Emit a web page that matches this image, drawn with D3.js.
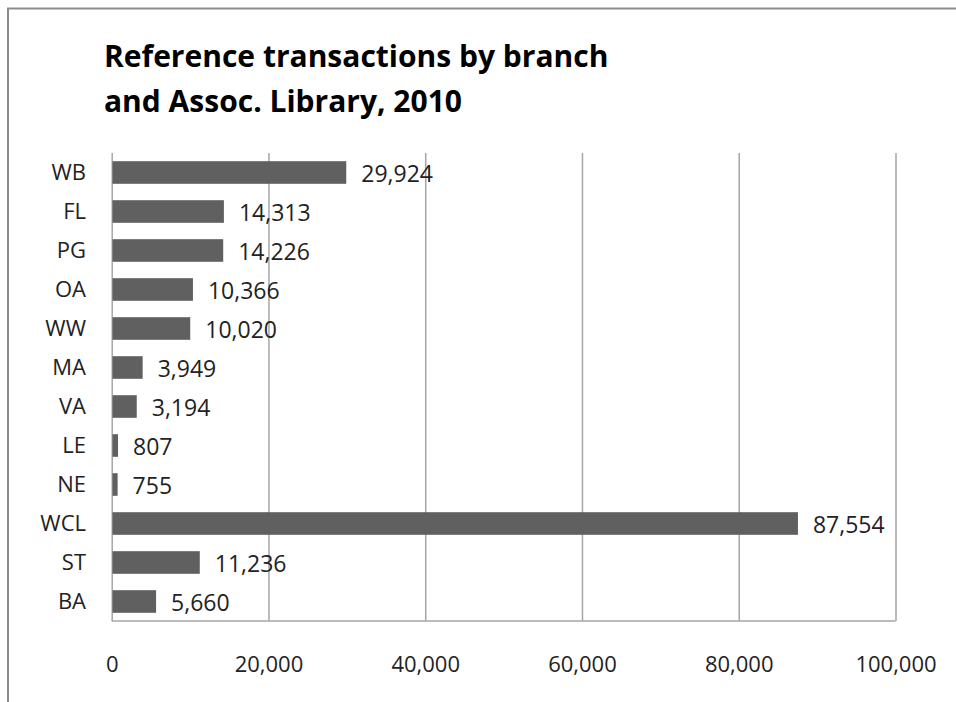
<!DOCTYPE html>
<html>
<head>
<meta charset="utf-8">
<script src="https://cdn.jsdelivr.net/npm/d3@7/dist/d3.min.js"></script>
<style>
  html, body { margin: 0; padding: 0; background: #fff; }
  svg { display: block; }
  text { font-family: "Open Sans", "Noto Sans", sans-serif; }
</style>
</head>
<body>
<svg id="chart" width="956" height="702"></svg>
<script>
// Branch codes, top to bottom
const categories = ["WB", "FL", "PG", "OA", "WW", "MA", "VA", "LE", "NE", "WCL", "ST", "BA"];
// Reference transactions, 2010
const transactions = [29924, 14313, 14226, 10366, 10020, 3949, 3194, 807, 755, 87554, 11236, 5660];
// Value axis ticks
const tickValues = [0, 20000, 40000, 60000, 80000, 100000];
const titleLines = ["Reference transactions by branch", "and Assoc. Library, 2010"];

const svg = d3.select("#chart");
const W = 956, H = 702;
const plot = { left: 111.7, right: 895.5, top: 153, bottom: 621 };

// outer chart frame (top and left edges visible)
svg.append("path")
  .attr("d", `M8,${H} L8,8.5 L${W},8.5`)
  .attr("fill", "none")
  .attr("stroke", "#8c8c8c")
  .attr("stroke-width", 2);

// title
const title = svg.append("text")
  .attr("x", 104)
  .attr("y", 67)
  .attr("font-size", 30)
  .attr("font-weight", 700)
  .attr("fill", "#000");
titleLines.forEach((line, i) => {
  title.append("tspan").attr("x", 104).attr("dy", i === 0 ? 0 : 45).text(line);
});

const x = d3.scaleLinear().domain([0, 100000]).range([plot.left, plot.right]);
const y = d3.scaleBand().domain(categories)
  .range([plot.top, plot.bottom])
  .paddingInner(0.42).paddingOuter(0.21);

// vertical gridlines
const grid = svg.append("g")
  .attr("transform", `translate(0,${plot.bottom})`)
  .call(d3.axisBottom(x).tickValues(tickValues)
    .tickSize(-(plot.bottom - plot.top)).tickFormat(""));
grid.select(".domain").remove();
grid.selectAll(".tick line").attr("stroke", "#a6a6a6").attr("stroke-width", 1.5);

// bottom axis line
svg.append("line")
  .attr("x1", plot.left).attr("x2", plot.right)
  .attr("y1", plot.bottom).attr("y2", plot.bottom)
  .attr("stroke", "#a6a6a6").attr("stroke-width", 1.5);

// bars
svg.append("g").selectAll("rect")
  .data(categories.map((c, i) => ({ c, v: transactions[i] })))
  .join("rect")
  .attr("x", x(0) + 0.75)
  .attr("y", d => y(d.c))
  .attr("width", d => x(d.v) - x(0) - 0.75)
  .attr("height", y.bandwidth())
  .attr("fill", "#606060");

// value labels
const fmt = d3.format(",");
svg.append("g").selectAll("text")
  .data(categories.map((c, i) => ({ c, v: transactions[i] })))
  .join("text")
  .attr("x", d => x(d.v) + 15)
  .attr("y", d => y(d.c) + y.bandwidth() / 2)
  .attr("dy", "0.42em")
  .attr("font-size", 23)
  .attr("fill", "#222")
  .text(d => fmt(d.v));

// value axis labels
const xAxis = svg.append("g")
  .attr("transform", `translate(0,${plot.bottom})`)
  .call(d3.axisBottom(x).tickValues(tickValues).tickSize(0).tickFormat(fmt));
xAxis.select(".domain").remove();
xAxis.selectAll("text")
  .attr("y", 50.7).attr("dy", 0)
  .attr("font-size", 22)
  .attr("font-family", "'Open Sans', sans-serif")
  .attr("fill", "#222");

// category labels
const yAxis = svg.append("g")
  .attr("transform", `translate(${plot.left},0)`)
  .call(d3.axisLeft(y).tickSize(0).tickPadding(25.7));
yAxis.select(".domain").remove();
yAxis.selectAll("text")
  .attr("dy", "0.36em")
  .attr("font-size", 22)
  .attr("font-family", "'Open Sans', sans-serif")
  .attr("fill", "#222");
</script>
</body>
</html>
